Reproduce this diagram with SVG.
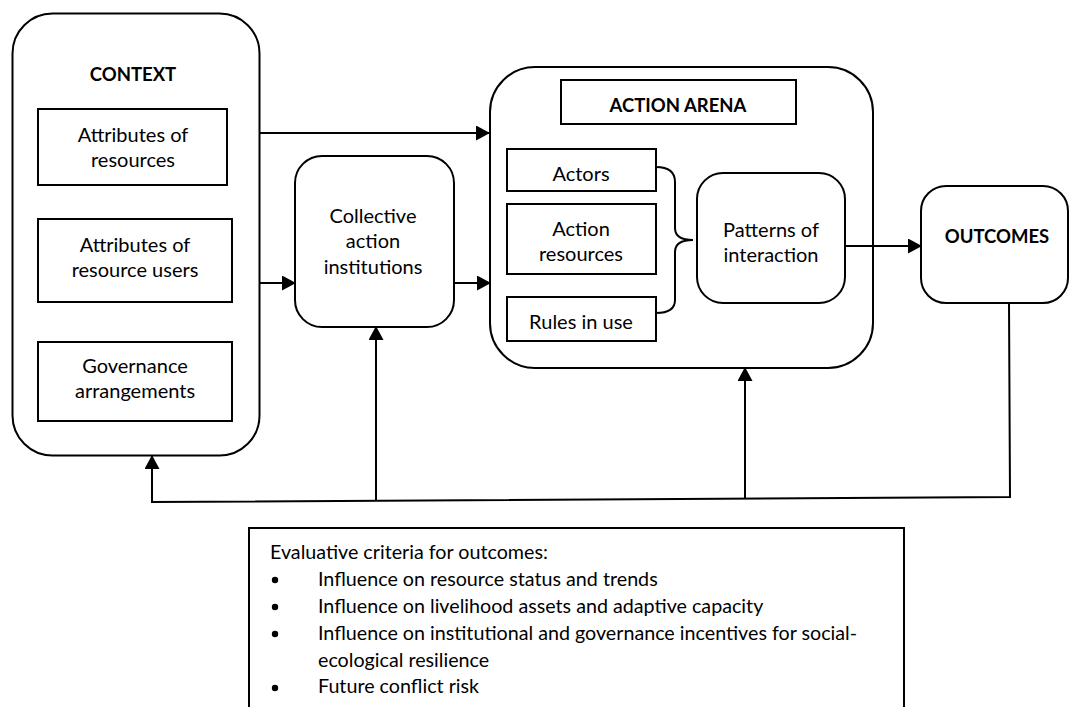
<svg xmlns="http://www.w3.org/2000/svg" width="1070" height="707" viewBox="0 0 1070 707">
<style>
.box{fill:#fff;stroke:#000;stroke-width:2}
.t{font-family:Lato,"Liberation Sans",sans-serif;font-size:20px;fill:#000;text-anchor:middle}
.b{font-weight:bold;font-size:18.5px}
.l{font-family:Lato,"Liberation Sans",sans-serif;font-size:19.7px;fill:#000}
.c{fill:none;stroke:#000;stroke-width:2}
</style>
<defs>
<marker id="ah" markerUnits="userSpaceOnUse" markerWidth="14" markerHeight="16" refX="13" refY="7.5" orient="auto">
<polygon points="0,0 14,7.5 0,15" fill="#000"/>
</marker>
</defs>
<rect width="1070" height="707" fill="#fff"/>
<g id="context">
<rect class="box" x="12.5" y="13.5" width="247" height="442" rx="40"/>
<text class="t b" x="133" y="81">CONTEXT</text>
</g>
<g id="attr-resources">
<rect class="box" x="38" y="109" width="189" height="76"/>
<text class="t" x="133" y="142">Attributes of</text>
<text class="t" x="133" y="167">resources</text>
</g>
<g id="attr-users">
<rect class="box" x="38" y="219" width="194" height="83"/>
<text class="t" x="135" y="252">Attributes of</text>
<text class="t" x="135" y="277">resource users</text>
</g>
<g id="governance">
<rect class="box" x="38" y="342" width="194" height="79"/>
<text class="t" x="135" y="373">Governance</text>
<text class="t" x="135" y="398">arrangements</text>
</g>
<g id="collective">
<rect class="box" x="295" y="156" width="159" height="171" rx="27"/>
<text class="t" x="373" y="223">Collective</text>
<text class="t" x="373" y="248">action</text>
<text class="t" x="373" y="274">institutions</text>
</g>
<g id="action-arena">
<rect class="box" x="490" y="67" width="383" height="301" rx="45"/>
<rect class="box" x="561" y="80" width="235" height="44"/>
<text class="t b" x="678" y="112">ACTION ARENA</text>
</g>
<g id="actors">
<rect class="box" x="507" y="149" width="149" height="42"/>
<text class="t" x="581" y="181">Actors</text>
</g>
<g id="action-resources">
<rect class="box" x="507" y="204" width="149" height="70"/>
<text class="t" x="581" y="236">Action</text>
<text class="t" x="581" y="261">resources</text>
</g>
<g id="rules">
<rect class="box" x="507" y="297" width="149" height="44"/>
<text class="t" x="581" y="329">Rules in use</text>
</g>
<g id="patterns">
<rect class="box" x="697" y="173" width="148" height="130" rx="26"/>
<text class="t" x="771" y="237">Patterns of</text>
<text class="t" x="771" y="262">interaction</text>
</g>
<g id="outcomes">
<rect class="box" x="921" y="186" width="147" height="117" rx="25"/>
<text class="t b" x="997" y="243">OUTCOMES</text>
</g>
<g id="criteria">
<rect class="box" x="249" y="528" width="655" height="200"/>
<text class="l" x="270" y="559">Evaluative criteria for outcomes:</text>
<g fill="#000"><circle cx="275" cy="580" r="3.2"/><circle cx="275" cy="607" r="3.2"/><circle cx="275" cy="634" r="3.2"/><circle cx="275" cy="688" r="3.2"/></g>
<text class="l" x="318" y="586">Influence on resource status and trends</text>
<text class="l" x="318" y="613">Influence on livelihood assets and adaptive capacity</text>
<text class="l" x="318" y="640">Influence on institutional and governance incentives for social-</text>
<text class="l" x="318" y="667">ecological resilience</text>
<text class="l" x="318" y="693">Future conflict risk</text>
</g>
<g id="connectors">
<path class="c" d="M259,133 L489,133" marker-end="url(#ah)"/>
<path class="c" d="M259,283 L295,283" marker-end="url(#ah)"/>
<path class="c" d="M454,283 L490,283" marker-end="url(#ah)"/>
<path class="c" d="M845,246 L921,246" marker-end="url(#ah)"/>
<path class="c" d="M656,167 Q675,167 675,182 L675,228 Q675,240 693,240 Q675,240 675,252 L675,300 Q675,313 656,313"/>
<path class="c" d="M1009,303 L1010,497 L152,502 L152,456" marker-end="url(#ah)"/>
<path class="c" d="M376,501 L376,327" marker-end="url(#ah)"/>
<path class="c" d="M745,498 L745,368" marker-end="url(#ah)"/>
</g>
</svg>
